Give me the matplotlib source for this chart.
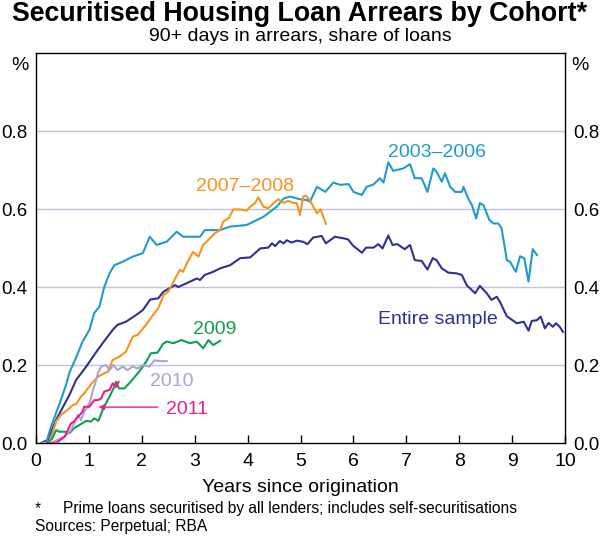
import numpy as np
import matplotlib
matplotlib.use('Agg')
import matplotlib.pyplot as plt

plt.rcParams['font.family'] = ['Liberation Sans', 'DejaVu Sans']

# 2003-2006 cohort
c0306_x = [0.10, 0.19, 0.28, 0.38, 0.47, 0.57, 0.63, 0.76, 0.88, 1.01, 1.10, 1.20, 1.29, 1.39,
           1.48, 1.64, 1.83, 2.02, 2.15, 2.28, 2.47, 2.66, 2.78, 3.10, 3.19, 3.48, 3.67, 3.98,
           4.30, 4.55, 4.68, 4.80, 4.99, 5.12, 5.18, 5.31, 5.47, 5.62, 5.75, 5.91, 6.00, 6.16,
           6.25, 6.38, 6.50, 6.57, 6.66, 6.75, 6.94, 7.07, 7.16, 7.29, 7.40, 7.51, 7.57, 7.67,
           7.73, 7.83, 7.92, 8.05, 8.08, 8.17, 8.24, 8.32, 8.39, 8.46, 8.57, 8.65, 8.74, 8.80,
           8.90, 8.96, 9.07, 9.15, 9.23, 9.31, 9.39, 9.47]
c0306_y = [0.0, 0.0, 0.04, 0.077, 0.11, 0.15, 0.18, 0.22, 0.26, 0.29, 0.333, 0.35, 0.40, 0.435,
           0.456, 0.465, 0.478, 0.487, 0.529, 0.508, 0.516, 0.542, 0.529, 0.529, 0.546, 0.546,
           0.555, 0.559, 0.58, 0.606, 0.627, 0.632, 0.625, 0.623, 0.619, 0.657, 0.644, 0.668,
           0.662, 0.664, 0.644, 0.636, 0.657, 0.663, 0.679, 0.668, 0.720, 0.698, 0.704, 0.715,
           0.679, 0.679, 0.644, 0.704, 0.696, 0.670, 0.692, 0.657, 0.644, 0.644, 0.657, 0.627,
           0.610, 0.576, 0.615, 0.610, 0.572, 0.563, 0.563, 0.551, 0.469, 0.465, 0.439, 0.479,
           0.474, 0.414, 0.497, 0.482]

# 2007-2008 cohort
c0708_x = [0.15, 0.25, 0.38, 0.47, 0.60, 0.69, 0.76, 0.85, 0.91, 1.04, 1.17, 1.29, 1.36, 1.45,
           1.57, 1.70, 1.83, 1.92, 2.08, 2.21, 2.31, 2.41, 2.50, 2.60, 2.72, 2.78, 2.88, 2.97,
           3.07, 3.16, 3.26, 3.38, 3.48, 3.54, 3.64, 3.73, 3.86, 3.98, 4.05, 4.14, 4.20, 4.30,
           4.39, 4.49, 4.58, 4.68, 4.77, 4.86, 4.93, 4.99, 5.05, 5.10, 5.18, 5.24, 5.31, 5.38,
           5.48]
c0708_y = [0.0, 0.0, 0.055, 0.072, 0.085, 0.097, 0.10, 0.119, 0.127, 0.151, 0.17, 0.179, 0.183,
           0.213, 0.221, 0.234, 0.273, 0.277, 0.303, 0.328, 0.345, 0.379, 0.388, 0.414, 0.444,
           0.439, 0.469, 0.49, 0.478, 0.508, 0.521, 0.538, 0.546, 0.568, 0.576, 0.599, 0.599,
           0.596, 0.606, 0.615, 0.63, 0.606, 0.602, 0.615, 0.625, 0.616, 0.621, 0.616, 0.615,
           0.585, 0.632, 0.634, 0.623, 0.606, 0.589, 0.599, 0.562]

# 2009 cohort
c09_x = [0.10, 0.19, 0.30, 0.38, 0.44, 0.54, 0.63, 0.72, 0.82, 0.95, 1.04, 1.10, 1.18, 1.26,
         1.39, 1.48, 1.51, 1.57, 1.67, 1.79, 1.95, 2.08, 2.17, 2.30, 2.40, 2.47, 2.60, 2.75,
         2.91, 3.04, 3.16, 3.26, 3.35, 3.48]
c09_y = [0.0, 0.0, 0.01, 0.033, 0.029, 0.029, 0.025, 0.038, 0.046, 0.057, 0.055, 0.063, 0.057,
         0.085, 0.119, 0.144, 0.157, 0.14, 0.14, 0.157, 0.183, 0.208, 0.23, 0.232, 0.254, 0.26,
         0.256, 0.264, 0.256, 0.26, 0.243, 0.264, 0.251, 0.262]

# 2010 cohort
c10_x = [0.15, 0.28, 0.47, 0.57, 0.66, 0.72, 0.79, 0.85, 0.91, 0.98, 1.02, 1.07, 1.12, 1.17,
         1.23, 1.32, 1.39, 1.46, 1.54, 1.64, 1.73, 1.83, 1.92, 2.02, 2.14, 2.24, 2.34, 2.47]
c10_y = [0.0, 0.0, 0.012, 0.02, 0.033, 0.05, 0.072, 0.059, 0.08, 0.093, 0.106, 0.132, 0.153,
         0.179, 0.196, 0.20, 0.187, 0.20, 0.187, 0.196, 0.187, 0.196, 0.191, 0.20, 0.196, 0.212,
         0.21, 0.21]

# 2011 cohort
c11_x = [0.20, 0.38, 0.54, 0.60, 0.66, 0.72, 0.79, 0.88, 0.91, 1.01, 1.10, 1.17, 1.23, 1.29,
         1.39, 1.45, 1.51, 1.56]
c11_y = [0.0, 0.0, 0.016, 0.033, 0.05, 0.055, 0.067, 0.08, 0.093, 0.093, 0.11, 0.11, 0.114,
         0.132, 0.136, 0.153, 0.144, 0.157]

# Entire sample
all_x = [0.10, 0.22, 0.38, 0.50, 0.63, 0.76, 0.95, 1.10, 1.26, 1.45, 1.54, 1.70, 1.89, 2.02,
         2.16, 2.31, 2.41, 2.63, 2.69, 2.85, 3.04, 3.10, 3.19, 3.35, 3.48, 3.67, 3.86, 4.05,
         4.24, 4.39, 4.46, 4.52, 4.61, 4.68, 4.74, 4.83, 4.93, 5.05, 5.13, 5.24, 5.40, 5.48,
         5.65, 5.81, 5.90, 6.00, 6.06, 6.16, 6.24, 6.38, 6.47, 6.55, 6.66, 6.74, 6.83, 6.97,
         7.07, 7.16, 7.29, 7.40, 7.50, 7.57, 7.67, 7.79, 7.95, 8.05, 8.14, 8.30, 8.39, 8.52,
         8.61, 8.71, 8.77, 8.90, 9.09, 9.22, 9.31, 9.37, 9.47, 9.54, 9.62, 9.69, 9.77, 9.83,
         9.90, 9.96]
all_y = [0.0, 0.008, 0.059, 0.09, 0.123, 0.162, 0.196, 0.226, 0.256, 0.29, 0.303, 0.311, 0.328,
         0.341, 0.368, 0.371, 0.388, 0.405, 0.40, 0.41, 0.422, 0.418, 0.431, 0.439, 0.448,
         0.456, 0.474, 0.476, 0.499, 0.501, 0.512, 0.505, 0.518, 0.512, 0.52, 0.514, 0.519,
         0.516, 0.51, 0.527, 0.531, 0.512, 0.529, 0.525, 0.522, 0.505, 0.499, 0.488, 0.501,
         0.501, 0.51, 0.499, 0.532, 0.508, 0.51, 0.497, 0.508, 0.469, 0.467, 0.445, 0.474,
         0.469, 0.448, 0.437, 0.435, 0.431, 0.405, 0.384, 0.403, 0.384, 0.367, 0.375, 0.362,
         0.325, 0.307, 0.311, 0.288, 0.313, 0.315, 0.324, 0.294, 0.308, 0.298, 0.307, 0.298,
         0.285]

col_0306 = '#1e9ccc'
col_0708 = '#f7941d'
col_09 = '#0fa04f'
col_10 = '#aaa5d3'
col_11 = '#ec1c8c'
col_all = '#2e3192'

fig = plt.figure(figsize=(6.0, 5.36), dpi=100)
ax = fig.add_axes([0.06, 0.1735, 0.8817, 0.7275])

for yy in [0.2, 0.4, 0.6, 0.8]:
    ax.axhline(yy, color='#c3c3d8', lw=1.0, zorder=1)

lw = 1.5
ax.plot(all_x, all_y, color=col_all, lw=lw, zorder=3)
ax.plot(c0306_x, c0306_y, color=col_0306, lw=lw, zorder=3)
ax.plot(c0708_x, c0708_y, color=col_0708, lw=lw, zorder=3)
ax.plot(c09_x, c09_y, color=col_09, lw=lw, zorder=3)
ax.plot(c10_x, c10_y, color=col_10, lw=lw, zorder=3)
ax.plot(c11_x, c11_y, color=col_11, lw=lw, zorder=4)

ax.set_xlim(0, 10)
ax.set_ylim(0, 1.0)
ax.set_xticks(range(0, 11))
ax.set_yticks([0.0, 0.2, 0.4, 0.6, 0.8])
ax.set_yticklabels(['0.0', '0.2', '0.4', '0.6', '0.8'])
ax.tick_params(axis='x', direction='in', length=6, width=1, labelsize=14, pad=7)
ax.tick_params(axis='y', length=0, labelsize=13.5, pad=6, labelright=True)
for s in ax.spines.values():
    s.set_linewidth(1.0)

ax.set_xlabel('Years since origination', fontsize=14, labelpad=7)

lab = dict(fontsize=14, ha='center', va='center')
ax.text(7.58, 0.744, '2003\u20132006', color=col_0306, **lab)
ax.text(3.95, 0.658, '2007\u20132008', color=col_0708, **lab)
ax.text(7.60, 0.316, 'Entire sample', color=col_all, **lab)
ax.text(3.38, 0.29, '2009', color=col_09, **lab)
ax.text(2.57, 0.158, '2010', color=col_10, **lab)
ax.text(2.86, 0.087, '2011', color=col_11, **lab)
ax.annotate('', xy=(1.18, 0.092), xytext=(2.30, 0.092),
            arrowprops=dict(arrowstyle='-|>', color=col_11, lw=1.0,
                            mutation_scale=8, shrinkA=0, shrinkB=0))

fig.text(0.5, 0.974, 'Securitised Housing Loan Arrears by Cohort*', fontsize=19.3,
         fontweight='bold', ha='center', va='center')
fig.text(0.5, 0.932, '90+ days in arrears, share of loans', fontsize=14,
         ha='center', va='center')
fig.text(20 / 600, 1 - 66 / 536, '%', fontsize=14, ha='center', va='center')
fig.text(580 / 600, 1 - 66 / 536, '%', fontsize=14, ha='center', va='center')
fig.text(35 / 600, 1 - 509 / 536, '*', fontsize=11.2, ha='left', va='center')
fig.text(63 / 600, 1 - 509 / 536,
         'Prime loans securitised by all lenders; includes self-securitisations',
         fontsize=11.2, ha='left', va='center')
fig.text(35 / 600, 1 - 527 / 536, 'Sources: Perpetual; RBA', fontsize=11.2,
         ha='left', va='center')

fig.savefig('out.png', dpi=100)
